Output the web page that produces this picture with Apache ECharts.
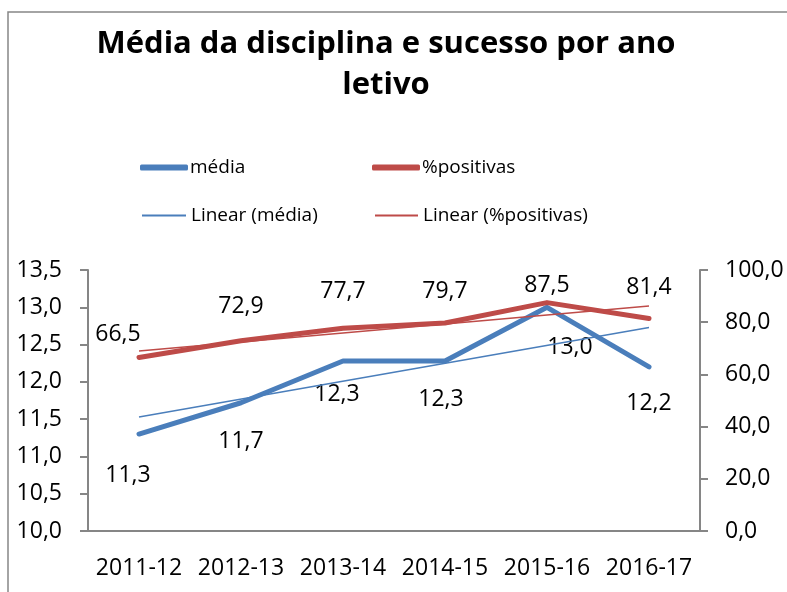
<!DOCTYPE html>
<html>
<head>
<meta charset="utf-8">
<script src="https://cdn.jsdelivr.net/npm/echarts@6/dist/echarts.min.js"></script>
<style>
  html, body { margin: 0; padding: 0; background: #fff; }
  #chart { width: 787px; height: 592px; }
</style>
</head>
<body>
<div id="chart"></div>
<script>
// dados
var anos = ['2011-12', '2012-13', '2013-14', '2014-15', '2015-16', '2016-17']
var media = [11.3, 11.72, 12.28, 12.28, 13.0, 12.2]
var positivas = [66.5, 72.9, 77.7, 79.7, 87.5, 81.4]
var linearMedia = [11.53, null, null, null, null, 12.73]
var linearPositivas = [69.0, null, null, null, null, 86.2]
var ticksEsq = [10.0, 13.5, 0.5] // min, max, intervalo
var ticksDir = [0, 100, 20]

var azul = '#4a7ebb'
var vermelho = '#be4b48'
var cinza = '#868686'
var fonte = '"Open Sans", sans-serif'

// ajustes manuais dos rótulos (como no Excel original)
var ajusteMedia = [[-11, 1], [0, -1], [-6, -7], [-4, -2], [23, 0], [0, -3]]
var ajustePositivas = [[-21, 9], [0, -2], [0, -5], [0, 0], [0, 15], [0, 1]]

function virgula(v, casas) {
    return v.toFixed(casas).replace('.', ',')
}

function comAjuste(valores, ajustes) {
    return valores.map(function (v, i) {
        return { value: v, label: { offset: ajustes[i] } }
    })
}

var chart = echarts.init(document.getElementById('chart'))
var option = {
    animation: false,
    textStyle: { fontFamily: fonte },
    title: {
        text: 'Média da disciplina e sucesso por ano\nletivo',
        left: 381,
        top: 19,
        textAlign: 'center',
        textStyle: {
            fontFamily: fonte,
            fontSize: 31,
            fontWeight: 'bold',
            color: '#000',
            lineHeight: 41
        }
    },
    legend: [
        { data: ['média'], left: 135, top: 153, icon: 'roundRect', itemWidth: 48, itemHeight: 6, itemGap: 0,
          textStyle: { fontSize: 19, color: '#000', padding: [0, 0, 0, -3] } },
        { data: ['%positivas'], left: 367, top: 153, icon: 'roundRect', itemWidth: 48, itemHeight: 6, itemGap: 0,
          textStyle: { fontSize: 19, color: '#000', padding: [0, 0, 0, -3] } },
        { data: ['Linear (média)'], left: 137, top: 201, icon: 'rect', itemWidth: 44, itemHeight: 2, itemGap: 0,
          textStyle: { fontSize: 19, color: '#000', padding: [0, 0, 0, 0] } },
        { data: ['Linear (%positivas)'], left: 370, top: 201, icon: 'rect', itemWidth: 43, itemHeight: 2, itemGap: 0,
          textStyle: { fontSize: 19, color: '#000', padding: [0, 0, 0, 0] } }
    ],
    grid: { left: 88, right: 87, top: 270, bottom: 61 },
    xAxis: {
        type: 'category',
        data: anos,
        boundaryGap: true,
        axisLine: { lineStyle: { color: cinza, width: 2 } },
        axisTick: { show: false },
        axisLabel: { color: '#000', fontSize: 23, margin: 26, interval: 0 }
    },
    yAxis: [{
        type: 'value',
        min: ticksEsq[0], max: ticksEsq[1], interval: ticksEsq[2],
        position: 'left',
        splitLine: { show: false },
        axisLine: { show: true, lineStyle: { color: cinza, width: 2 } },
        axisTick: { show: true, length: 8, lineStyle: { color: cinza, width: 2 } },
        axisLabel: { color: '#000', fontSize: 23, margin: 26, formatter: function (v) { return virgula(v, 1) } }
    }, {
        type: 'value',
        min: ticksDir[0], max: ticksDir[1], interval: ticksDir[2],
        position: 'right',
        splitLine: { show: false },
        axisLine: { show: true, lineStyle: { color: cinza, width: 2 } },
        axisTick: { show: true, length: 8, lineStyle: { color: cinza, width: 2 } },
        axisLabel: { color: '#000', fontSize: 23, margin: 25, formatter: function (v) { return virgula(v, 1) } }
    }],
    series: [{
        name: 'Linear (média)',
        type: 'line',
        yAxisIndex: 0,
        data: linearMedia,
        connectNulls: true,
        symbol: 'none',
        z: 3,
        lineStyle: { color: azul, width: 1.5 },
        itemStyle: { color: azul }
    }, {
        name: 'Linear (%positivas)',
        type: 'line',
        yAxisIndex: 1,
        data: linearPositivas,
        connectNulls: true,
        symbol: 'none',
        z: 3,
        lineStyle: { color: vermelho, width: 1.5 },
        itemStyle: { color: vermelho }
    }, {
        name: 'média',
        type: 'line',
        yAxisIndex: 0,
        data: comAjuste(media, ajusteMedia),
        symbol: 'circle',
        symbolSize: 3,
        showAllSymbol: true,
        z: 2,
        lineStyle: { color: azul, width: 5, cap: 'round', join: 'round' },
        itemStyle: { color: azul, borderWidth: 0 },
        label: {
            show: true,
            position: 'bottom',
            distance: 27,
            fontSize: 23,
            color: '#000',
            formatter: function (p) { return virgula(p.value, 1) }
        }
    }, {
        name: '%positivas',
        type: 'line',
        yAxisIndex: 1,
        data: comAjuste(positivas, ajustePositivas),
        symbol: 'circle',
        symbolSize: 3,
        showAllSymbol: true,
        z: 2,
        lineStyle: { color: vermelho, width: 5, cap: 'round', join: 'round' },
        itemStyle: { color: vermelho, borderWidth: 0 },
        label: {
            show: true,
            position: 'top',
            distance: 19,
            fontSize: 23,
            color: '#000',
            formatter: function (p) { return virgula(p.value, 1) }
        }
    }],
    graphic: [{
        type: 'rect',
        shape: { x: 8, y: 12, width: 790, height: 600 },
        style: { fill: 'none', stroke: cinza, lineWidth: 1.5 },
        silent: true
    }]
}
chart.setOption(option)
</script>
</body>
</html>
